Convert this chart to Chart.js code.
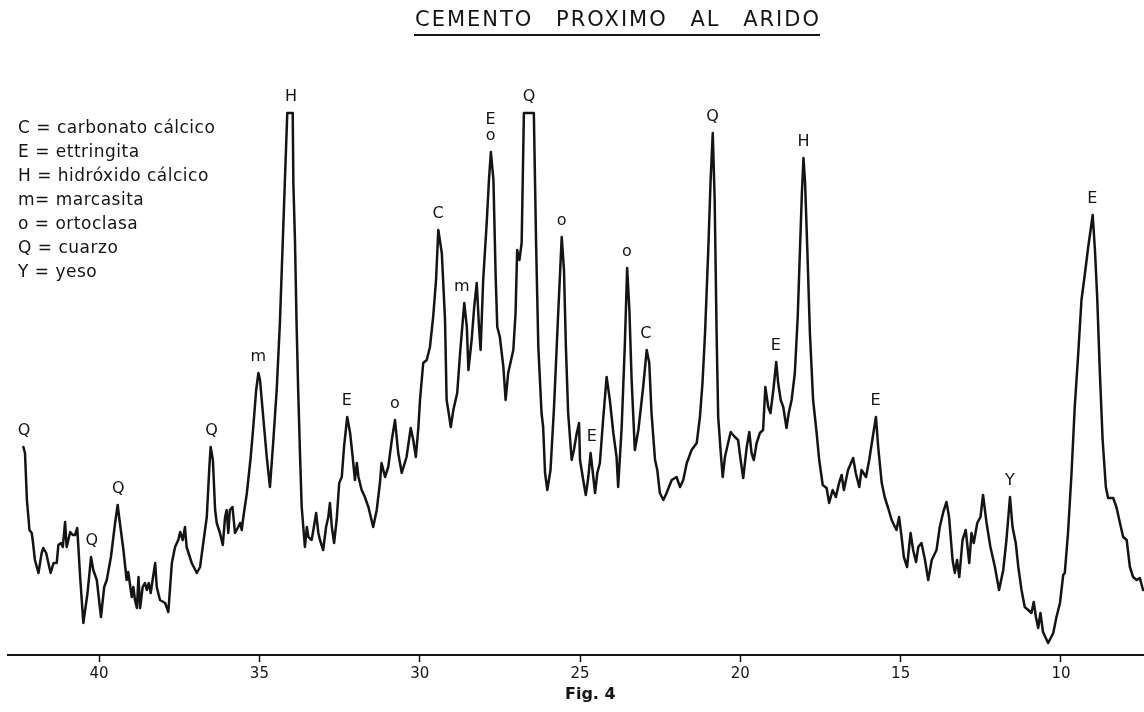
<!DOCTYPE html>
<html lang="es">
<head>
<meta charset="utf-8">
<title>Cemento próximo al árido</title>
<script src="https://cdn.jsdelivr.net/npm/chart.js@4.4.1/dist/chart.umd.min.js"></script>
<style>
  html, body { margin: 0; padding: 0; background: #fff; }
  .chart-box { position: relative; width: 1144px; height: 712px; }
</style>
</head>
<body>
<div class="chart-box"><canvas id="xrdChart"></canvas></div>
<script>
// Diffractogram trace: angle (2θ, degrees) and recorder height (arbitrary units)
const twoTheta = [
    42.36, 42.31, 42.25, 42.17, 42.10, 42.07, 42.00, 41.89, 41.79, 41.74,
    41.65, 41.58, 41.51, 41.42, 41.32, 41.27, 41.19, 41.13, 41.06, 41.01,
    40.90, 40.82, 40.75, 40.68, 40.59, 40.49, 40.36, 40.25, 40.18, 40.07,
    39.94, 39.84, 39.76, 39.63, 39.50, 39.42, 39.35, 39.24, 39.14, 39.09,
    38.98, 38.93, 38.88, 38.82, 38.77, 38.72, 38.64, 38.57, 38.51, 38.45,
    38.39, 38.25, 38.20, 38.10, 37.94, 37.84, 37.73, 37.63, 37.53, 37.47,
    37.39, 37.32, 37.27, 37.11, 36.95, 36.85, 36.75, 36.64, 36.56, 36.52,
    36.45, 36.38, 36.33, 36.23, 36.14, 36.07, 36.02, 35.97, 35.92, 35.84,
    35.79, 35.76, 35.66, 35.60, 35.55, 35.50, 35.39, 35.27, 35.19, 35.10,
    35.03, 34.98, 34.88, 34.77, 34.67, 34.57, 34.46, 34.36, 34.25, 34.20,
    34.13, 33.96, 33.94, 33.89, 33.84, 33.79, 33.73, 33.68, 33.58, 33.52,
    33.47, 33.37, 33.30, 33.23, 33.16, 33.11, 33.01, 32.92, 32.85, 32.80,
    32.74, 32.67, 32.59, 32.51, 32.43, 32.36, 32.26, 32.17, 32.09, 32.02,
    31.96, 31.91, 31.81, 31.71, 31.60, 31.45, 31.34, 31.24, 31.19, 31.08,
    30.98, 30.87, 30.77, 30.67, 30.56, 30.41, 30.28, 30.20, 30.12, 30.04,
    29.99, 29.89, 29.78, 29.68, 29.58, 29.49, 29.42, 29.31, 29.21, 29.16,
    29.11, 29.03, 28.95, 28.83, 28.74, 28.61, 28.53, 28.48, 28.38, 28.30,
    28.22, 28.15, 28.10, 28.02, 27.91, 27.84, 27.78, 27.70, 27.63, 27.58,
    27.50, 27.39, 27.32, 27.24, 27.08, 27.01, 26.96, 26.89, 26.82, 26.75,
    26.44, 26.37, 26.30, 26.20, 26.15, 26.09, 26.02, 25.92, 25.81, 25.68,
    25.57, 25.50, 25.44, 25.37, 25.26, 25.19, 25.10, 25.03, 25.00, 24.90,
    24.82, 24.74, 24.67, 24.61, 24.53, 24.46, 24.38, 24.28, 24.17, 24.07,
    23.96, 23.86, 23.81, 23.70, 23.60, 23.53, 23.46, 23.39, 23.29, 23.18,
    23.03, 22.92, 22.84, 22.77, 22.66, 22.59, 22.51, 22.40, 22.30, 22.14,
    21.99, 21.88, 21.78, 21.67, 21.52, 21.36, 21.26, 21.18, 21.10, 21.00,
    20.93, 20.86, 20.80, 20.74, 20.69, 20.61, 20.55, 20.48, 20.41, 20.30,
    20.17, 20.07, 19.99, 19.91, 19.80, 19.72, 19.65, 19.58, 19.49, 19.39,
    19.29, 19.22, 19.13, 19.06, 18.97, 18.88, 18.82, 18.74, 18.66, 18.56,
    18.49, 18.40, 18.30, 18.21, 18.14, 18.08, 18.03, 17.98, 17.91, 17.83,
    17.73, 17.62, 17.54, 17.43, 17.31, 17.23, 17.12, 17.02, 16.92, 16.84,
    16.77, 16.64, 16.48, 16.40, 16.29, 16.22, 16.08, 15.98, 15.87, 15.77,
    15.70, 15.59, 15.49, 15.39, 15.28, 15.13, 15.05, 14.97, 14.90, 14.80,
    14.69, 14.61, 14.52, 14.45, 14.35, 14.24, 14.14, 14.03, 13.88, 13.78,
    13.67, 13.57, 13.49, 13.38, 13.31, 13.24, 13.17, 13.07, 12.97, 12.86,
    12.79, 12.72, 12.61, 12.51, 12.43, 12.32, 12.20, 12.06, 11.93, 11.80,
    11.70, 11.59, 11.51, 11.41, 11.33, 11.23, 11.13, 11.02, 10.92, 10.85,
    10.78, 10.71, 10.64, 10.56, 10.40, 10.24, 10.14, 10.03, 9.93, 9.88,
    9.78, 9.67, 9.57, 9.46, 9.36, 9.25, 9.15, 9.01, 8.94, 8.87,
    8.79, 8.70, 8.60, 8.53, 8.37, 8.27, 8.16, 8.06, 7.95, 7.85,
    7.75, 7.64, 7.54, 7.44
];

const counts = [
    208, 202, 155, 125, 122, 115, 95, 82, 102, 107,
    102, 92, 82, 92, 92, 110, 112, 108, 133, 108,
    123, 120, 120, 127, 78, 32, 62, 98, 85, 75,
    38, 68, 75, 98, 132, 150, 132, 105, 75, 83,
    58, 68, 55, 47, 78, 47, 68, 72, 65, 72,
    62, 92, 68, 55, 52, 43, 92, 108, 115, 123,
    115, 128, 108, 92, 82, 88, 112, 138, 188, 208,
    195, 145, 132, 122, 110, 138, 145, 122, 145, 148,
    132, 122, 128, 132, 125, 138, 162, 198, 228, 265,
    282, 275, 238, 198, 168, 212, 265, 332, 432, 478,
    542, 542, 472, 415, 332, 265, 198, 148, 108, 128,
    118, 115, 128, 142, 122, 115, 105, 128, 138, 152,
    128, 112, 135, 172, 178, 208, 238, 222, 198, 175,
    192, 178, 165, 158, 148, 128, 145, 172, 192, 178,
    188, 215, 235, 202, 182, 198, 227, 215, 198, 228,
    255, 292, 295, 308, 338, 375, 425, 402, 335, 255,
    245, 228, 245, 262, 302, 352, 328, 285, 315, 348,
    372, 328, 305, 375, 432, 475, 503, 475, 378, 328,
    318, 288, 255, 282, 305, 342, 405, 395, 412, 542,
    542, 412, 308, 242, 228, 182, 165, 185, 248, 342,
    418, 385, 308, 242, 195, 205, 222, 232, 195, 175,
    160, 178, 202, 185, 162, 182, 192, 235, 278, 255,
    222, 198, 168, 228, 312, 387, 345, 275, 205, 225,
    268, 305, 292, 242, 195, 185, 162, 155, 162, 175,
    178, 168, 175, 192, 205, 212, 238, 272, 322, 405,
    472, 522, 455, 322, 238, 202, 178, 198, 208, 223,
    218, 215, 195, 177, 208, 223, 202, 195, 212, 222,
    225, 268, 248, 242, 265, 293, 272, 255, 248, 227,
    242, 255, 282, 338, 405, 462, 497, 472, 405, 322,
    255, 222, 195, 170, 167, 152, 165, 158, 172, 180,
    165, 185, 197, 182, 168, 185, 178, 195, 218, 238,
    208, 172, 157, 147, 135, 125, 138, 118, 98, 88,
    122, 105, 93, 108, 112, 95, 75, 95, 105, 128,
    143, 153, 138, 95, 82, 95, 78, 115, 125, 92,
    122, 112, 132, 138, 160, 132, 108, 88, 65, 85,
    115, 158, 128, 112, 88, 65, 48, 45, 42, 53,
    38, 27, 42, 23, 12, 22, 38, 52, 80, 82,
    122, 182, 248, 302, 355, 382, 408, 440, 405, 358,
    285, 215, 168, 157, 157, 148, 132, 118, 115, 88,
    78, 75, 77, 65
];

const tickValues = [40, 35, 30, 25, 20, 15, 10];

// Phase identified at each reflection
const peakLetters = ["Q", "Q", "Q", "Q", "m", "H", "E", "o", "C", "m", "o", "E",
                     "Q", "o", "E", "o", "C", "Q", "E", "H", "E", "Y", "E"];
const peakAngles  = [42.34, 40.23, 39.40, 36.49, 35.03, 34.01, 32.27, 30.77, 29.43, 28.69, 27.79, 27.79,
                     26.59, 25.57, 24.63, 23.54, 22.95, 20.87, 18.89, 18.03, 15.78, 11.59, 9.02];
const peakStack   = [0, 0, 0, 0, 0, 0, 0, 0, 0, 0, 0, 1,
                     0, 0, 0, 0, 0, 0, 0, 0, 0, 0, 0];

const keyLines = [
    "C = carbonato cálcico",
    "E = ettringita",
    "H = hidróxido cálcico",
    "m= marcasita",
    "o = ortoclasa",
    "Q = cuarzo",
    "Y = yeso"
];

const chartTitle = "CEMENTO PROXIMO AL ARIDO";
const figureCaption = "Fig. 4";

const INK = "#141414";
const LETTERING = "'DejaVu Sans', 'Liberation Sans', sans-serif";

// Letters over the peaks, placed just above the highest point near each angle
const peakLabels = {
    id: "peakLabels",
    afterDatasetsDraw(chart) {
        const { ctx, scales: { x, y } } = chart;
        ctx.save();
        ctx.font = `16px ${LETTERING}`;
        ctx.fillStyle = INK;
        ctx.textAlign = "center";
        ctx.textBaseline = "middle";
        peakLetters.forEach((letter, i) => {
            const angle = peakAngles[i];
            let top = 0;
            twoTheta.forEach((t, j) => {
                if (Math.abs(t - angle) <= 0.17) top = Math.max(top, counts[j]);
            });
            const px = x.getPixelForValue(angle);
            const py = y.getPixelForValue(top) - 16 - peakStack[i] * 16;
            ctx.fillText(letter, px, py);
        });
        ctx.restore();
    }
};

// Heading, phase key and caption
const figureText = {
    id: "figureText",
    afterDraw(chart) {
        const { ctx, chartArea } = chart;
        ctx.save();
        ctx.fillStyle = INK;
        ctx.strokeStyle = INK;
        ctx.textBaseline = "middle";
        ctx.textAlign = "left";

        // underlined heading
        ctx.font = `21px ${LETTERING}`;
        ctx.letterSpacing = "2px";
        ctx.wordSpacing = "14px";
        const titleWidth = ctx.measureText(chartTitle).width;
        const titleLeft = 618 - titleWidth / 2;
        ctx.fillText(chartTitle, titleLeft, 21);
        ctx.lineWidth = 1.8;
        ctx.beginPath();
        ctx.moveTo(titleLeft - 1, 35);
        ctx.lineTo(titleLeft + titleWidth - 1, 35);
        ctx.stroke();

        // phase key
        ctx.font = `17px ${LETTERING}`;
        ctx.letterSpacing = "0.5px";
        ctx.wordSpacing = "0px";
        keyLines.forEach((line, i) => ctx.fillText(line, 18, 129 + i * 24));

        // caption under the axis
        ctx.font = `bold 16px ${LETTERING}`;
        ctx.letterSpacing = "0px";
        ctx.fillText(figureCaption, 565, chartArea.bottom + 40);
        ctx.restore();
    }
};

const ctx = document.getElementById("xrdChart").getContext("2d");
const xrdChart = new Chart(ctx, {
    type: "scatter",
    data: {
        datasets: [{
            data: twoTheta.map((t, i) => ({ x: t, y: counts[i] })),
            showLine: true,
            borderColor: INK,
            borderWidth: 2.5,
            borderJoinStyle: "round",
            borderCapStyle: "round",
            pointRadius: 0,
            tension: 0
        }]
    },
    options: {
        responsive: true,
        maintainAspectRatio: false,
        animation: false,
        events: [],
        layout: { padding: { top: 55, left: 8, right: 0, bottom: 26 } },
        plugins: {
            legend: { display: false },
            tooltip: { enabled: false },
            title: { display: false }
        },
        scales: {
            x: {
                type: "linear",
                reverse: true,
                min: 7.41,
                max: 42.84,
                afterBuildTicks: axis => { axis.ticks = tickValues.map(v => ({ value: v })); },
                ticks: {
                    color: INK,
                    font: { family: LETTERING, size: 15 },
                    padding: 3,
                    maxRotation: 0
                },
                grid: {
                    drawOnChartArea: false,
                    drawTicks: true,
                    tickLength: 7,
                    tickColor: INK,
                    tickWidth: 1.5
                },
                border: { display: true, color: INK, width: 2 }
            },
            y: {
                display: false,
                min: 0,
                max: 600
            }
        }
    },
    plugins: [peakLabels, figureText]
});
</script>
</body>
</html>
